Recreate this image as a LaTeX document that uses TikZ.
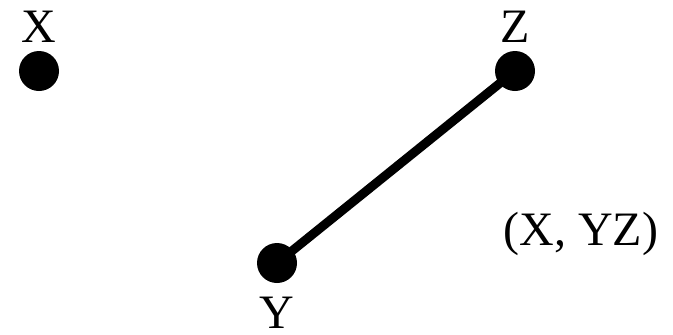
\documentclass[tikz,border=0pt]{standalone}
\usepackage{fontspec}
\setmainfont{Liberation Serif}
\usetikzlibrary{positioning}

\begin{document}
\begin{tikzpicture}[
  x=0.5pt, y=-0.5pt,
  vdot/.style={circle, fill=black, draw=none, minimum size=20pt, inner sep=0pt},
  vlabel/.style={font=\fontsize{24}{24}\selectfont, inner sep=0pt},
  vedge/.style={line width=4.5pt, black},
]
\useasboundingbox (0,0) rectangle (673,334);
\node[vdot] (ptX) at (39,71)  {};
\node[vdot] (ptZ) at (515,71) {};
\node[vdot] (ptY) at (277,263) {};
\draw[vedge] (ptY.center) -- (ptZ.center);
\node[vlabel, above=4pt of ptX] (lblX) {X};
\node[vlabel, above=4pt of ptZ] (lblZ) {Z};
\node[vlabel, below=6.5pt of ptY] (lblY) {Y};
\node[vlabel, anchor=base] (pair) at (581,245) {(X, YZ)};
\end{tikzpicture}
\end{document}
